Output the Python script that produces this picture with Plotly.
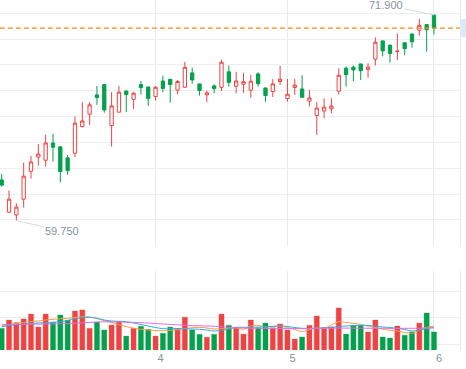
import plotly.graph_objects as go

# ---------------- data ----------------
tick_labels = ["4", "5", "6"]          # month labels on the time axis
tick_days = [21, 39, 59]               # trading-day index where each month starts
day_index = list(range(60))            # 60 visible trading days

open_ = [62.16, 60.25, 60.09, 61.02, 62.67, 63.50, 63.32, 64.34, 64.11, 63.46,
         63.74, 65.31, 66.04, 67.18, 67.79, 65.37, 66.16, 67.41, 66.92, 67.79,
         67.65, 67.08, 68.00, 68.10, 67.46, 67.63, 68.48, 67.83, 67.18, 67.71,
         67.63, 68.54, 67.69, 67.81, 67.46, 68.42, 67.59, 67.38, 67.97, 66.97,
         67.62, 67.53, 66.81, 65.97, 66.23, 66.36, 67.40, 68.76, 68.82, 69.01,
         68.69, 69.29, 70.37, 70.12, 69.74, 70.26, 70.78, 71.00, 71.33, 71.90]
high = [62.51, 61.53, 60.78, 63.18, 63.58, 64.27, 64.83, 64.89, 64.13, 63.64,
        65.90, 66.75, 66.75, 67.71, 67.80, 67.34, 67.71, 67.42, 67.37, 68.00,
        67.66, 67.71, 68.32, 68.11, 68.06, 69.13, 68.79, 67.84, 67.43, 67.81,
        69.26, 68.91, 68.55, 68.49, 68.36, 68.52, 67.60, 68.12, 68.89, 68.12,
        68.12, 68.34, 67.47, 66.76, 66.98, 66.98, 68.75, 68.86, 68.92, 69.02,
        69.05, 70.58, 70.38, 70.13, 70.80, 70.27, 70.79, 71.66, 71.37, 71.90]
low = [61.76, 60.22, 59.75, 60.52, 62.24, 63.00, 62.95, 63.24, 62.02, 62.47,
       63.50, 65.25, 65.41, 66.59, 66.13, 64.13, 66.16, 66.17, 66.35, 67.20,
       66.53, 66.84, 67.34, 66.72, 67.22, 67.62, 67.84, 67.14, 66.75, 67.28,
       67.41, 67.67, 67.27, 67.31, 67.02, 67.67, 66.78, 67.06, 67.77, 66.78,
       67.18, 67.03, 66.49, 64.82, 65.80, 66.10, 67.21, 67.67, 67.99, 68.06,
       68.19, 68.92, 69.46, 69.08, 69.24, 69.52, 69.97, 70.68, 69.73, 70.75]
close = [61.85, 61.02, 60.55, 62.38, 63.22, 63.69, 64.34, 64.09, 62.65, 62.71,
         65.51, 65.64, 66.59, 67.02, 66.29, 66.53, 67.34, 67.20, 67.28, 67.61,
         66.96, 67.63, 67.56, 67.79, 67.97, 68.81, 68.06, 67.44, 67.30, 67.55,
         69.11, 67.92, 68.00, 67.96, 67.99, 67.84, 67.14, 67.83, 68.11, 67.22,
         67.76, 67.04, 67.00, 66.40, 66.46, 66.52, 68.34, 68.38, 68.65, 68.61,
         68.82, 70.29, 69.78, 69.63, 69.76, 69.91, 70.32, 71.29, 71.03, 71.13]

volume = [51800, 58100, 56100, 58900, 62600, 52800, 62600, 56400, 61900, 58100,
          64900, 65700, 51800, 56600, 50600, 54300, 56800, 46000, 51800, 53400,
          51100, 46000, 48100, 52800, 51800, 60200, 50600, 47300, 45100, 47300,
          62600, 54100, 52300, 47500, 58100, 52300, 55800, 52300, 55100, 50600,
          43800, 45300, 54100, 61100, 52300, 52800, 67200, 47500, 54100, 54100,
          49100, 58100, 45300, 44500, 53600, 46600, 49100, 55800, 63400, 49100]

vol_ma5 = [53590, 54340, 55470, 56230, 56830, 57360, 58110, 58640, 59020, 59400,
           60000, 60600, 60380, 59250, 57580, 56230, 54570, 53210, 51850, 51090,
           50570, 50190, 50040, 50340, 50790, 51700, 52300, 52600, 52080, 51320,
           51550, 51850, 52080, 51090, 53580, 54110, 52830, 53210, 53360, 52450,
           50940, 49430, 50790, 52080, 51700, 54340, 56830, 56230, 55620, 54720,
           53580, 52450, 51090, 50340, 49810, 48680, 48080, 50570, 52600, 53580]
vol_ma10 = [53060, 53960, 54490, 55090, 55470, 55850, 56080, 56380, 56830, 57740,
            59090, 59850, 60150, 59400, 58110, 57360, 57130, 56830, 55850, 54720,
            53580, 52450, 51550, 51550, 51550, 51550, 51320, 51090, 50570, 49810,
            50340, 51320, 52600, 52600, 52600, 52830, 53060, 53360, 53580, 53210,
            52450, 51850, 51700, 51850, 52230, 52600, 53210, 53580, 53960, 54110,
            53960, 53360, 52830, 52450, 51850, 50940, 49810, 50570, 51700, 52600]
vol_ma20 = [54570, 54640, 54720, 54790, 54940, 55020, 55090, 55170, 55320, 55470,
            55700, 56000, 56230, 56600, 56750, 56750, 56600, 56450, 56300, 56080,
            55770, 55470, 55090, 54790, 54490, 54110, 53890, 53740, 53590, 53360,
            53060, 52600, 52230, 52080, 51920, 51850, 51770, 51700, 51620, 51620,
            51620, 51700, 51770, 51850, 51920, 51920, 52000, 52000, 52000, 51920,
            51920, 51850, 51850, 51770, 51770, 51850, 51850, 51920, 52000, 52080]

# ---------------- styling ----------------
RED = "#EF4343"
GREEN = "#03A14C"
HGRID = "#ECEEF1"
VGRID = "#E5EBF2"
LABEL = "#8791A3"
FONT = "Liberation Sans, Arial, sans-serif"

bar_colors = [RED if c >= o else GREEN for o, c in zip(open_, close)]
bar_edges = ["rgba(239,67,67,0.30)" if c >= o else "rgba(3,161,76,0.30)"
             for o, c in zip(open_, close)]

fig = go.Figure()
fig.add_trace(go.Candlestick(
    x=day_index, open=open_, high=high, low=low, close=close,
    xaxis="x", yaxis="y", whiskerwidth=0,
    increasing=dict(line=dict(color=RED, width=1), fillcolor="white"),
    decreasing=dict(line=dict(color=GREEN, width=1), fillcolor=GREEN),
    hoverinfo="skip", showlegend=False))

fig.add_trace(go.Bar(
    x=day_index, y=volume, xaxis="x2", yaxis="y2",
    marker=dict(color=bar_colors, line=dict(color=bar_edges, width=1)),
    hoverinfo="skip", showlegend=False))

for series, col in ((vol_ma5, "#FF9B3D"), (vol_ma10, "#2AAEE6"), (vol_ma20, "#E56BE2")):
    fig.add_trace(go.Scatter(
        x=day_index, y=series, xaxis="x2", yaxis="y2", mode="lines",
        line=dict(color=col, width=1, shape="spline", smoothing=0.8),
        hoverinfo="skip", showlegend=False))

# axis geometry (plot area: x 0..460 px, y 0..350 px)
x_range = [-0.232, 62.55]
p_lo, p_hi = 58.264, 72.7855
p_step = 1.526
price_grid = [p_lo + 0.002 + k * p_step for k in range(10)]
v_lo, v_hi = 35472, 95093
vol_grid = [40000, 60000, 80000, v_hi - 25]

hi_val = max(high)
hi_idx = high.index(hi_val)
lo_val = min(low)
lo_idx = low.index(lo_val)

fig.update_layout(
    width=466, height=369,
    margin=dict(l=0, r=6, t=0, b=19),
    paper_bgcolor="white", plot_bgcolor="white",
    showlegend=False, bargap=0.3, boxgap=0.36,
    font=dict(family=FONT, color=LABEL, size=11),
    xaxis=dict(domain=[0, 1], range=x_range, anchor="y",
               tickvals=tick_days, ticktext=tick_labels, showticklabels=False,
               ticks="", showgrid=True, gridcolor=VGRID, gridwidth=1,
               zeroline=False, showline=False, rangeslider=dict(visible=False)),
    yaxis=dict(domain=[1 - 246 / 350, 1], range=[p_lo - 0.01, p_hi], anchor="x",
               tickvals=price_grid, showticklabels=False, ticks="",
               showgrid=True, gridcolor=HGRID, gridwidth=1, zeroline=False,
               side="right", showline=True, linecolor=VGRID, linewidth=1),
    xaxis2=dict(domain=[0, 1], range=x_range, anchor="y2",
                tickvals=tick_days, ticktext=tick_labels, ticks="",
                ticklabelshift=5, tickfont=dict(family=FONT, size=11, color=LABEL),
                showgrid=True, gridcolor=VGRID, gridwidth=1,
                zeroline=False, showline=False),
    yaxis2=dict(domain=[0, 1 - 271 / 350], range=[v_lo, v_hi], anchor="x2",
                tickvals=vol_grid, showticklabels=False, ticks="",
                showgrid=True, gridcolor=HGRID, gridwidth=1, zeroline=False,
                side="right", showline=True, linecolor=VGRID, linewidth=1),
    shapes=[
        dict(type="line", xref="paper", yref="y", x0=0, x1=1,
             y0=close[-1], y1=close[-1],
             line=dict(color="#FF8C1A", width=1.2, dash="5px,3px")),
        dict(type="rect", xref="paper", yref="paper",
             x0=1.0008, x1=1.02, y0=1 - 37 / 350, y1=1 - 19 / 350,
             fillcolor="#DCEAF8", line=dict(width=0)),
    ],
    annotations=[
        dict(x=hi_idx, y=hi_val, xref="x", yref="y", text=f"{hi_val:.3f}",
             showarrow=True, arrowhead=0, arrowwidth=1, arrowcolor="#D5DBE4",
             ax=-48, ay=-10, font=dict(family=FONT, size=11, color=LABEL)),
        dict(x=lo_idx, y=lo_val, xref="x", yref="y", text=f"{lo_val:.3f}",
             showarrow=True, arrowhead=0, arrowwidth=1, arrowcolor="#D5DBE4",
             ax=46, ay=10, font=dict(family=FONT, size=11, color=LABEL)),
    ],
)

fig.write_html(
    "out.html",
    config={"displayModeBar": False, "staticPlot": True},
    post_script="document.body.style.margin='0';document.body.style.overflow='hidden';",
)
